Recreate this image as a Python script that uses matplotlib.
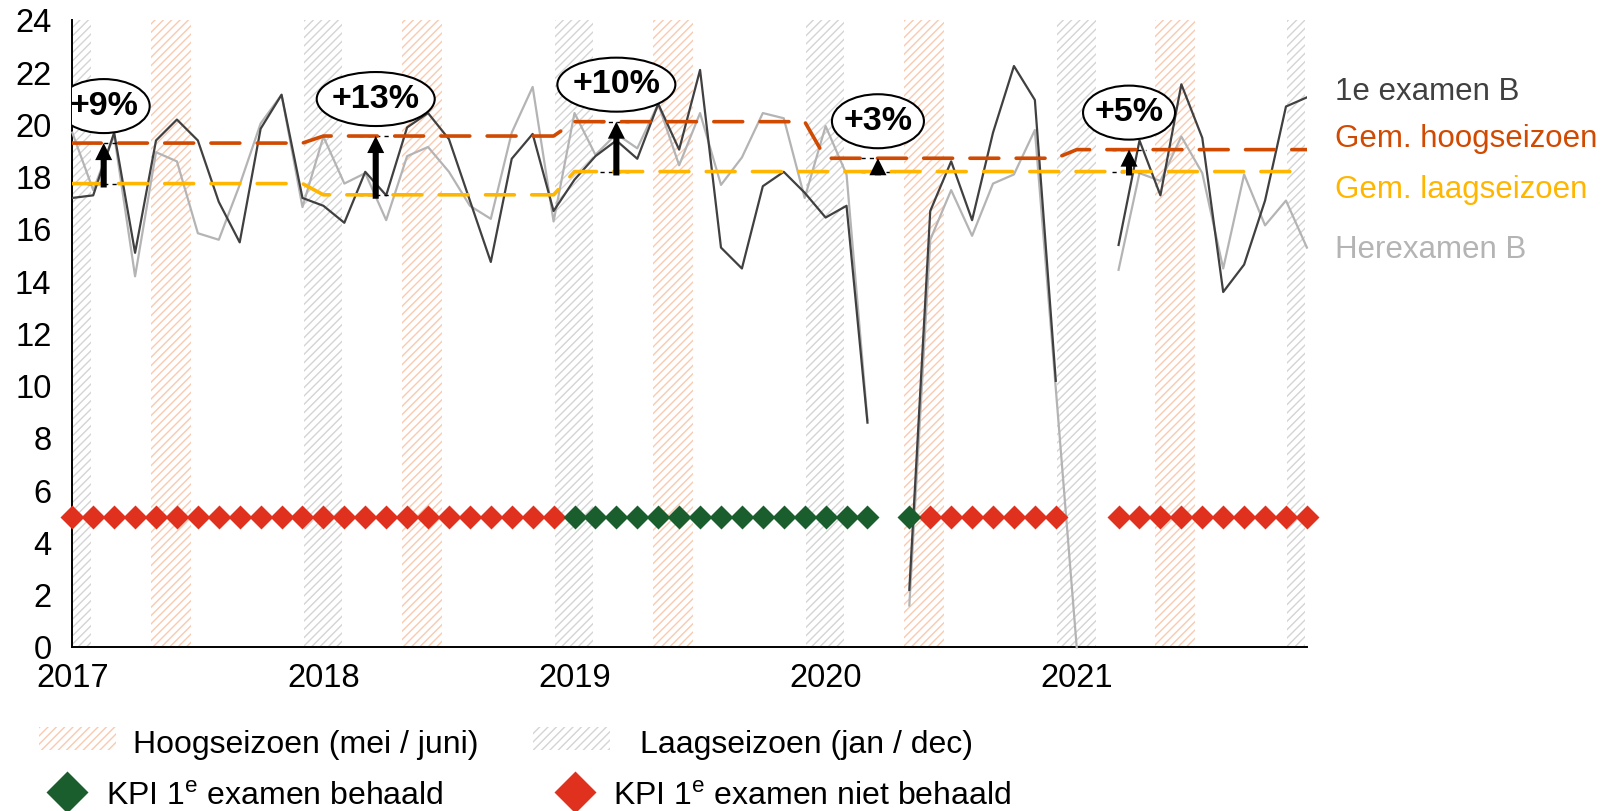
# coding=utf-8
import numpy as np
import matplotlib
matplotlib.use('Agg')
from matplotlib import pyplot as plt
from matplotlib.patches import Ellipse, Rectangle
from matplotlib.lines import Line2D

plt.rcParams['font.family'] = ['Liberation Sans', 'DejaVu Sans']
plt.rcParams['mathtext.fontset'] = 'custom'
plt.rcParams['mathtext.rm'] = 'Liberation Sans'

nan = np.nan

# maanden jan 2017 .. dec 2021 (index 0..59)
jaren = ['2017', '2018', '2019', '2020', '2021']

examen_1e = [17.2, 17.3, 19.7, 15.1, 19.4, 20.2, 19.4, 17.05, 15.5, 19.85, 21.15, 17.2,
             16.9, 16.25, 18.2, 17.3, 19.9, 20.45, 19.45, 17.1, 14.75, 18.7, 19.65, 16.7,
             17.9, 18.8, 19.4, 18.7, 20.8, 19.05, 22.1, 15.3, 14.5, 17.65, 18.2, 17.4,
             16.45, 16.9, 8.6, nan, 2.2, 16.7, 18.6, 16.35, 19.7, 22.25, 20.95, 10.2,
             nan, nan, 15.4, 19.4, 17.3, 21.55, 19.5, 13.6, 14.65, 17.1, 20.7, 21.05]

herexamen = [19.7, 17.5, 19.6, 14.2, 18.95, 18.6, 15.85, 15.6, 17.7, 20.05, 21.15, 16.85,
             19.55, 17.75, 18.15, 16.35, 18.8, 19.15, 18.2, 16.9, 16.4, 19.7, 21.45, 16.3,
             20.45, 18.85, 19.65, 19.1, 20.8, 18.45, 20.45, 17.7, 18.75, 20.45, 20.25, 17.2,
             19.95, 18.1, 8.7, nan, 1.6, 15.6, 17.5, 15.75, 17.75, 18.1, 19.8, 9.9,
             0.0, nan, 14.45, 18.15, 17.85, 19.55, 18.15, 14.5, 18.1, 16.15, 17.1, 15.3]

# jaargemiddelden
gem_hoog = [19.3, 19.57, 20.12, 18.72, 19.05]
gem_laag = [17.75, 17.32, 18.21, 18.21, 18.21]
verschil_labels = ['+9%', '+13%', '+10%', '+3%', '+5%']
pijl_maand = [1.5, 14.5, 26, 38.5, 50.5]

# KPI 1e examen: g = behaald, r = niet behaald, '' = geen examen
kpi = (['r'] * 24 + ['g'] * 15 + [''] + ['g'] + ['r'] * 7 + [''] * 2 + ['r'] * 10)
kpi_niveau = 5

# seizoenen (maand-index begin, eind)
hoogseizoen = [(4, 6), (16, 18), (28, 30), (40, 42), (52, 54)]
laagseizoen = [(0, 1), (11, 13), (23, 25), (35, 37), (47, 49), (58, 59)]

c_donker = '#404040'
c_licht = '#b4b4b4'
c_hoog = '#d04a02'
c_laag = '#ffb600'
c_groen = '#1b5e2e'
c_rood = '#e0301e'
c_zalm = '#f9c9b0'
c_grijs = '#d4d4d4'

W, H = 1603, 811
fig = plt.figure(figsize=(W / 100, H / 100), dpi=100)
ax_l, ax_r, ax_t, ax_b = 72.3, 1306.9, 20.3, 647.3
ax = fig.add_axes([ax_l / W, 1 - ax_b / H, (ax_r - ax_l) / W, (ax_b - ax_t) / H])

maanden = np.arange(60)
ax.set_xlim(0, 59)
ax.set_ylim(0, 24)
px_maand = (ax_r - ax_l) / 59.0
px_eenheid = (ax_b - ax_t) / 24.0

for a, b in hoogseizoen:
    ax.axvspan(a - 0.25, b - 0.35, facecolor='none', edgecolor=c_zalm, hatch='////', lw=0, zorder=0)
for a, b in laagseizoen:
    ax.axvspan(a + 0.05, b - 0.1, facecolor='none', edgecolor=c_grijs, hatch='////', lw=0, zorder=0)

ax.plot(maanden, herexamen, color=c_licht, lw=1.6, zorder=2, clip_on=False)
ax.plot(maanden, examen_1e, color=c_donker, lw=1.6, zorder=3)

hoog_maand = np.repeat(gem_hoog, 12)
laag_maand = np.repeat(gem_laag, 12)

# kleine zwarte streepjes bij de pijlen
for x, h, l in zip(pijl_maand, gem_hoog, gem_laag):
    ax.hlines([h, l], x - 0.8, x + 0.8, color='black', lw=1, linestyles=(0, (3, 3)), zorder=3.5)

ax.plot(maanden, hoog_maand, color=c_hoog, lw=2.6, dashes=(8.0, 4.8), dash_capstyle='round', zorder=4)
ax.plot(maanden, laag_maand, color=c_laag, lw=2.6, dashes=(8.0, 4.8), dash_capstyle='round', zorder=4)

for x, h, l, lab in zip(pijl_maand, gem_hoog, gem_laag, verschil_labels):
    ax.annotate('', xy=(x, h), xytext=(x, l - 0.15),
                arrowprops=dict(arrowstyle='simple,head_length=0.7,head_width=0.7,tail_width=0.25',
                                mutation_scale=17.5, fc='black', ec='black', lw=0,
                                shrinkA=0, shrinkB=0), zorder=5)
    breed = (14 + 26 * len(lab)) / px_maand
    hoogte = 54 / px_eenheid
    yc = h + 37 / px_eenheid
    ax.add_patch(Ellipse((x, yc), breed, hoogte, facecolor='white', edgecolor='black', lw=1.5, zorder=6))
    ax.text(x, yc, lab, ha='center', va='center', fontsize=24.5, fontweight='bold', zorder=7)

for status, kleur in (('r', c_rood), ('g', c_groen)):
    idx = [i for i, s in enumerate(kpi) if s == status]
    ax.plot(idx, [kpi_niveau] * len(idx), ls='none', marker='D', ms=12, color=kleur,
            mec='none', zorder=8, clip_on=False)

for s in ['top', 'right']:
    ax.spines[s].set_visible(False)
for s in ['left', 'bottom']:
    ax.spines[s].set_linewidth(1.4)
    ax.spines[s].set_zorder(1)
ax.set_xticks([0, 12, 24, 36, 48])
ax.set_xticklabels(jaren)
ax.set_yticks(range(0, 25, 2))
ax.tick_params(axis='both', length=0, labelsize=23.5)
ax.tick_params(axis='x', pad=11)
ax.tick_params(axis='y', pad=15)

# labels rechts
fig.text(1335 / W, 1 - 100 / H, '1e examen B', color=c_donker, fontsize=22.5, va='baseline')
fig.text(1335 / W, 1 - 147 / H, 'Gem. hoogseizoen', color=c_hoog, fontsize=22.5, va='baseline')
fig.text(1335 / W, 1 - 198 / H, 'Gem. laagseizoen', color=c_laag, fontsize=22.5, va='baseline')
fig.text(1335 / W, 1 - 258 / H, 'Herexamen B', color=c_licht, fontsize=22.5, va='baseline')

# legenda onder
for x0, kleur in ((38.7, c_zalm), (533, c_grijs)):
    fig.patches.append(Rectangle((x0 / W, 1 - 750 / H), 77 / W, 23 / H, transform=fig.transFigure,
                                 facecolor='none', edgecolor=kleur, hatch='////', lw=0))
fig.text(133 / W, 1 - 753 / H, 'Hoogseizoen (mei / juni)', fontsize=23, va='baseline')
fig.text(640 / W, 1 - 753 / H, 'Laagseizoen (jan / dec)', fontsize=23, va='baseline')
for xc, kleur in ((67, c_groen), (575, c_rood)):
    fig.lines.append(Line2D([xc / W], [1 - 792 / H], transform=fig.transFigure, marker='D',
                            ms=21, color=kleur, mec='none', ls='none'))
fig.text(106 / W, 1 - 805 / H, r'KPI 1$^{\mathregular{e}}$ examen behaald', fontsize=23, va='baseline')
fig.text(613 / W, 1 - 805 / H, r'KPI 1$^{\mathregular{e}}$ examen niet behaald', fontsize=23, va='baseline')

plt.savefig('out.png', dpi=100)
